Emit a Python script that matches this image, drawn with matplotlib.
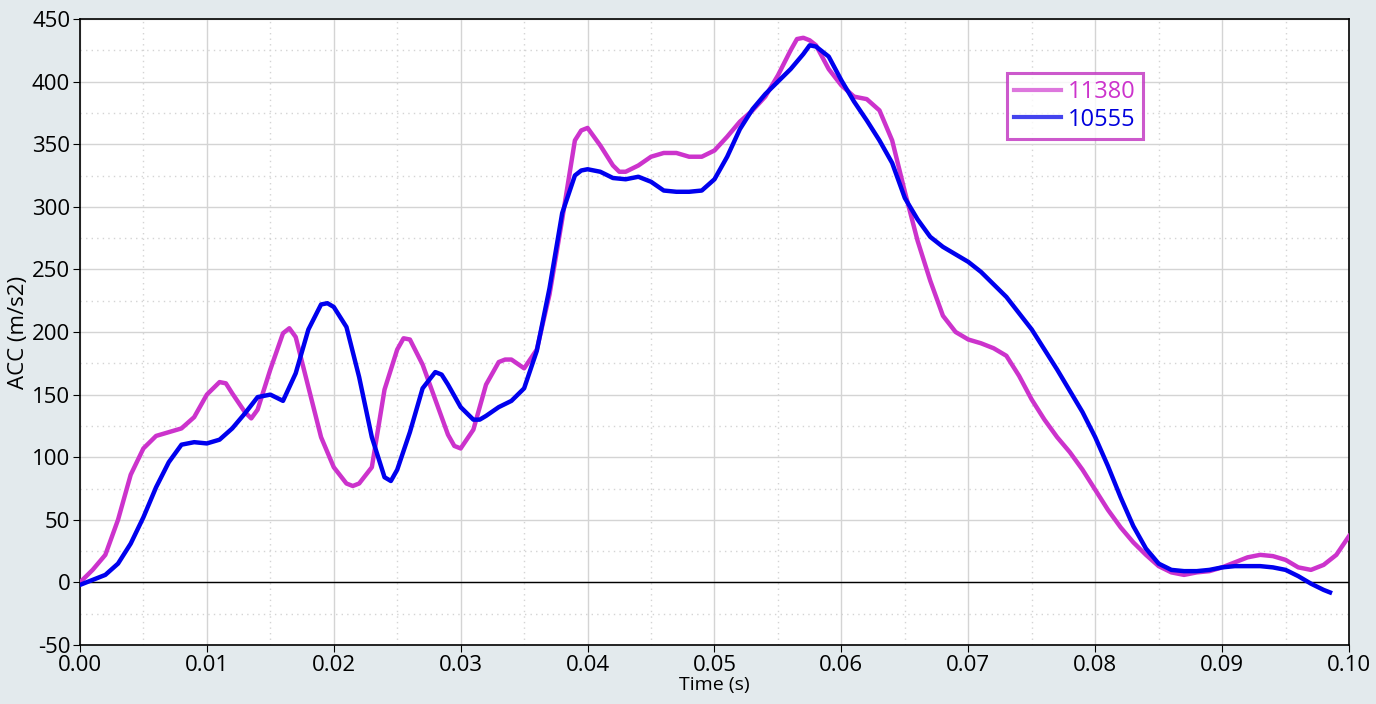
import numpy as np
import matplotlib.pyplot as plt
from matplotlib.ticker import MultipleLocator

plt.rcParams['font.family'] = ['Open Sans', 'DejaVu Sans']
plt.rcParams['axes.unicode_minus'] = False

# time samples (s)
t = [i * 0.001 for i in range(101)]

acc_11380 = [0, 10, 22, 50, 86, 107, 117, 120, 123, 132,
             150, 160, 151, 136, 138, 170, 199, 196, 156, 116,
             92, 79, 79, 92, 154, 186, 194, 174, 146, 118,
             107, 122, 158, 176, 178, 171, 186, 230, 290, 353,
             363, 349, 333, 328, 333, 340, 343, 343, 340, 340,
             345, 356, 368, 377, 388, 405, 425, 435, 429, 410,
             397, 388, 386, 377, 353, 312, 273, 241, 213, 200,
             194, 191, 187, 181, 165, 146, 130, 116, 104, 90,
             74, 58, 44, 32, 22, 13, 8, 6, 8, 9,
             12, 16, 20, 22, 21, 18, 12, 10, 14, 22,
             37]
# extra readings near peaks and troughs
t_extra_11380 = [0.0115, 0.0135, 0.0165, 0.0215, 0.0255, 0.0295, 0.0335, 0.0395, 0.0425, 0.0565, 0.0575]
acc_extra_11380 = [159, 131, 203, 77, 195, 109, 178, 361, 328, 434, 433]

t_10555 = t[:99]
acc_10555 = [-2, 2, 6, 15, 31, 52, 76, 96, 110, 112,
             111, 114, 123, 135, 148, 150, 145, 167, 202, 222,
             220, 204, 164, 116, 84, 90, 120, 155, 168, 158,
             140, 130, 133, 140, 145, 155, 185, 235, 295, 325,
             330, 328, 323, 322, 324, 320, 313, 312, 312, 313,
             322, 340, 362, 378, 390, 400, 410, 422, 428, 420,
             401, 384, 369, 353, 335, 307, 290, 276, 268, 262,
             256, 248, 238, 228, 215, 202, 186, 170, 153, 136,
             116, 93, 68, 45, 27, 15, 10, 9, 9, 10,
             12, 13, 13, 13, 12, 10, 5, -1, -6]
t_extra_10555 = [0.0195, 0.0245, 0.0285, 0.0315, 0.0395, 0.0575, 0.0985]
acc_extra_10555 = [223, 81, 166, 130, 329, 429, -8]


def merge(t_a, v_a, t_b, v_b):
    tt = np.array(list(t_a) + list(t_b))
    vv = np.array(list(v_a) + list(v_b))
    order = np.argsort(tt)
    return tt[order], vv[order]


x1, y1 = merge(t, acc_11380, t_extra_11380, acc_extra_11380)
x2, y2 = merge(t_10555, acc_10555, t_extra_10555, acc_extra_10555)

magenta = '#CC33CC'
blue = '#0000EE'

fig = plt.figure(figsize=(13.76, 7.04), dpi=100, facecolor='#E3EAED')
ax = fig.add_axes([0.0581, 0.0838, 0.9223, 0.8892])
ax.set_facecolor('white')

ax.plot(x1, y1, color=magenta, lw=3.2, label='11380', zorder=3,
        solid_joinstyle='round')
ax.plot(x2, y2, color=blue, lw=3.2, label='10555', zorder=4,
        solid_joinstyle='round')
ax.axhline(0, color='black', lw=1, zorder=2)

ax.set_xlim(0, 0.1)
ax.set_ylim(-50, 450)
ax.xaxis.set_major_locator(MultipleLocator(0.01))
ax.xaxis.set_minor_locator(MultipleLocator(0.005))
ax.yaxis.set_major_locator(MultipleLocator(50))
ax.yaxis.set_minor_locator(MultipleLocator(25))
ax.xaxis.set_major_formatter(plt.FormatStrFormatter('%.2f'))

ax.grid(which='major', color='#D4D4D4', lw=1)
ax.grid(which='minor', color='#D4D4D4', lw=1, ls=(0, (1, 3)))
ax.set_axisbelow(True)
ax.tick_params(which='major', labelsize=16, length=5, color='black', pad=2)
ax.tick_params(which='minor', length=0)
for s in ax.spines.values():
    s.set_color('black')
    s.set_linewidth(1.2)

ax.set_xlabel('Time (s)', fontsize=14, labelpad=0)
ax.set_ylabel('ACC (m/s2)', fontsize=16, labelpad=2)

leg = ax.legend(loc='upper right', bbox_to_anchor=(0.8306, 0.8963),
                bbox_transform=fig.transFigure, fontsize=17, frameon=True,
                fancybox=False, edgecolor='#C030C0', handlelength=2.0,
                handletextpad=0.3, borderpad=0.3, labelspacing=0.15,
                borderaxespad=0)
leg.get_frame().set_linewidth(2.2)
for line, c in zip(leg.get_lines(), ['#DD77DD', '#4444EE']):
    line.set_color(c)
    line.set_linewidth(3)
for txt, c in zip(leg.get_texts(), [magenta, '#0000DD']):
    txt.set_color(c)

fig.savefig('out.png', dpi=100, facecolor=fig.get_facecolor())
